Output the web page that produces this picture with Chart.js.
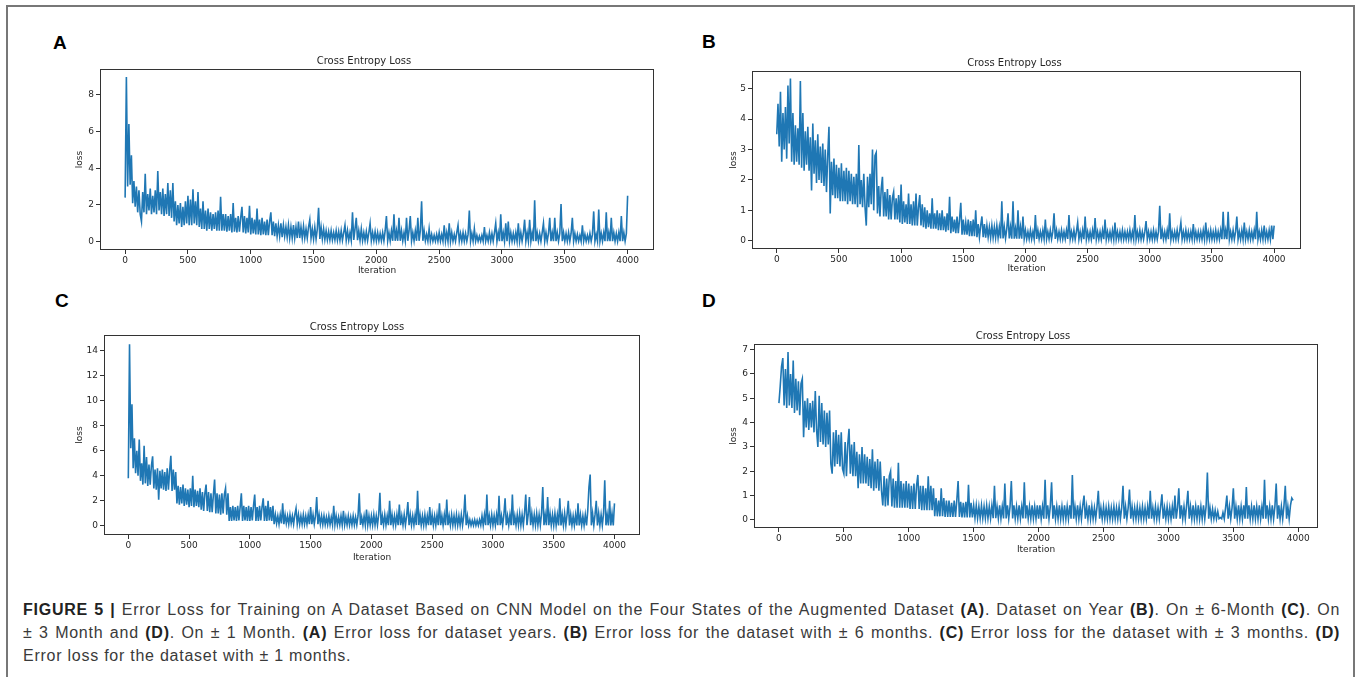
<!DOCTYPE html>
<html><head><meta charset="utf-8">
<script src="https://cdn.jsdelivr.net/npm/chart.js@4.4.1/dist/chart.umd.min.js"></script>
<style>
html,body{margin:0;padding:0;background:#fff;}
#page{position:relative;width:1357px;height:677px;overflow:hidden;background:#fff;}
#frame{position:absolute;left:6px;top:5px;width:1345px;height:720px;border:2px solid #777;border-bottom:none;}
.panel{position:absolute;font:bold 19px "Liberation Sans",Arial,sans-serif;color:#000;line-height:19px;}
canvas{position:absolute;}
#caption{position:absolute;left:23px;top:598px;width:1317px;font:16px "Liberation Sans",Arial,sans-serif;letter-spacing:0.75px;color:#3a3a3a;}
#caption div{height:23px;line-height:23px;}
#caption .j{text-align:justify;text-align-last:justify;}
#caption b{color:#222;}
</style></head>
<body>
<div id="page">
  <div id="frame"></div>
  <div class="panel" style="left:53px;top:33px">A</div>
  <div class="panel" style="left:702px;top:32px">B</div>
  <div class="panel" style="left:55px;top:291px">C</div>
  <div class="panel" style="left:702px;top:291px">D</div>
  <canvas id="cA" width="580" height="221" style="left:74px;top:55px"></canvas>
  <canvas id="cB" width="573" height="217" style="left:728px;top:57px"></canvas>
  <canvas id="cC" width="566" height="242" style="left:74px;top:321px"></canvas>
  <canvas id="cD" width="590" height="225" style="left:728px;top:330px"></canvas>
  <div id="caption">
    <div class="j"><b>FIGURE 5 |</b> Error Loss for Training on A Dataset Based on CNN Model on the Four States of the Augmented Dataset <b>(A)</b>. Dataset on Year <b>(B)</b>. On ± 6-Month <b>(C)</b>. On</div>
    <div class="j">± 3 Month and <b>(D)</b>. On ± 1 Month. <b>(A)</b> Error loss for dataset years. <b>(B)</b> Error loss for the dataset with ± 6 months. <b>(C)</b> Error loss for the dataset with ± 3 months. <b>(D)</b></div>
    <div>Error loss for the dataset with ± 1 months.</div>
  </div>
</div>
<script>
// iteration spacing between stored samples
const STEP = 10;
const xTicks = [0, 500, 1000, 1500, 2000, 2500, 3000, 3500, 4000];
const yTicksA = [0, 2, 4, 6, 8];
const yTicksB = [0, 1, 2, 3, 4, 5];
const yTicksC = [0, 2, 4, 6, 8, 10, 12, 14];
const yTicksD = [0, 1, 2, 3, 4, 5, 6, 7];

// (A) dataset on year  (one row = 200 iterations)
const lossA = [
  2.4, 8.97, 3.0, 6.4, 3.1, 4.7, 2.1, 3.3, 1.9, 3.0, 1.6, 2.8, 1.5, 1.1, 2.7, 1.6, 3.7, 1.5, 2.6, 1.7,
  2.9, 1.5, 2.5, 1.6, 2.8, 1.5, 3.85, 1.7, 2.7, 1.5, 2.9, 1.4, 2.6, 1.5, 3.2, 1.4, 2.8, 1.3, 3.2, 1.1,
  2.2, 0.9, 2.0, 1.0, 2.1, 0.8, 1.9, 0.9, 2.2, 1.0, 2.5, 0.9, 2.3, 0.9, 2.85, 1.0, 2.2, 0.9, 2.7, 0.8,
  1.8, 0.7, 2.2, 0.7, 1.7, 0.6, 1.8, 0.7, 1.6, 0.6, 1.5, 0.7, 1.6, 0.6, 1.7, 0.6, 2.45, 0.6, 1.5, 0.6,
  1.5, 0.55, 1.4, 0.6, 1.5, 0.5, 2.1, 0.55, 1.3, 0.5, 1.4, 0.55, 1.3, 1.9, 0.5, 1.4, 0.45, 1.3, 0.5, 1.95,
  0.4, 1.3, 0.45, 1.2, 0.4, 1.8, 0.4, 1.2, 0.35, 1.3, 0.4, 1.1, 0.35, 1.2, 0.35, 1.1, 1.6, 0.35, 1.1, 0.3,
  1.0, 0.3, 0.9, 0.3, 1.0, 0.25, 0.9, 0.3, 0.8, 0.25, 0.9, 0.2, 0.8, 0.2, 0.9, 0.2, 0.8, 0.2, 1.1, 0.2,
  0.8, 0.2, 0.85, 0.2, 0.7, 0.2, 0.8, 1.2, 0.2, 0.7, 0.15, 0.8, 0.15, 0.7, 1.85, 0.15, 0.8, 0.15, 0.7, 0.12,
  0.6, 0.1, 0.55, 0.1, 0.6, 0.1, 0.5, 0.1, 0.6, 0.08, 0.55, 0.08, 0.6, 0.08, 0.5, 0.9, 0.08, 0.6, 0.08, 0.5,
  0.08, 1.6, 0.1, 0.7, 1.3, 0.08, 0.6, 0.08, 0.7, 0.06, 0.5, 0.06, 0.55, 0.06, 0.5, 1.0, 0.06, 0.5, 0.06, 0.55,
  0.05, 0.5, 0.05, 0.45, 0.05, 0.5, 0.05, 0.6, 1.4, 0.05, 0.5, 0.05, 0.6, 0.05, 1.5, 0.05, 0.6, 0.05, 1.3, 0.05,
  0.6, 0.05, 0.5, 0.05, 1.3, 0.05, 0.6, 1.4, 0.05, 0.5, 0.05, 0.6, 0.05, 1.3, 0.05, 0.6, 2.2, 0.05, 0.6, 0.05,
  0.4, 0.03, 0.7, 0.03, 0.4, 0.03, 0.35, 0.03, 0.4, 0.03, 0.5, 0.03, 0.4, 0.03, 0.9, 0.03, 0.5, 0.03, 1.0, 0.03,
  0.5, 0.03, 0.4, 0.03, 0.5, 0.9, 0.03, 0.45, 0.03, 0.5, 0.03, 0.45, 0.03, 0.4, 1.7, 0.03, 0.45, 0.03, 0.7, 0.03,
  0.35, 0.03, 0.3, 0.03, 0.35, 0.03, 0.8, 0.03, 0.35, 0.03, 0.5, 0.03, 0.45, 0.03, 0.5, 1.0, 0.03, 0.5, 0.03, 1.5,
  0.03, 0.5, 0.03, 1.0, 0.03, 1.1, 0.03, 0.5, 0.03, 0.45, 0.03, 0.5, 0.03, 1.0, 0.03, 0.5, 0.03, 0.45, 1.2, 0.03,
  0.5, 0.03, 1.2, 0.03, 0.5, 0.03, 2.25, 0.03, 0.5, 0.03, 0.45, 0.03, 0.5, 1.0, 0.03, 0.5, 0.03, 0.45, 1.3, 0.03,
  0.5, 0.03, 1.3, 0.03, 0.5, 0.03, 0.45, 2.05, 0.03, 0.5, 0.03, 0.45, 0.03, 0.5, 0.03, 0.45, 1.3, 0.03, 0.45, 0.03,
  0.4, 0.03, 0.35, 0.03, 0.9, 0.03, 0.4, 0.03, 0.35, 0.03, 0.45, 0.03, 0.4, 1.65, 0.03, 0.4, 0.03, 1.75, 0.03, 0.45,
  0.03, 0.5, 0.03, 1.6, 0.03, 0.5, 0.03, 1.3, 0.03, 0.5, 0.03, 0.45, 0.03, 0.5, 0.03, 1.4, 0.03, 0.5, 0.03, 0.45,
  2.5
];

// (B) +/- 6 months
const lossB = [
  3.5, 4.5, 3.1, 4.9, 2.6, 4.2, 3.0, 4.4, 2.7, 5.1, 3.2, 5.33, 2.6, 4.2, 2.5, 3.8, 2.6, 3.7, 2.5, 5.25,
  2.4, 4.2, 2.3, 3.6, 2.5, 3.75, 2.3, 3.4, 1.65, 3.85, 2.2, 3.3, 1.9, 3.5, 2.0, 3.1, 1.9, 3.2, 1.8, 3.0,
  1.6, 2.8, 3.75, 0.9, 2.6, 1.5, 2.7, 1.4, 2.5, 1.4, 2.4, 1.3, 2.55, 1.3, 2.3, 1.3, 2.4, 1.2, 2.3, 1.3,
  2.2, 1.2, 2.1, 1.2, 2.2, 1.1, 3.15, 1.2, 2.0, 1.1, 2.2, 1.1, 0.5, 2.1, 1.1, 2.2, 1.2, 3.0, 1.0, 2.8,
  2.9, 0.9, 1.8, 0.8, 1.7, 2.1, 0.8, 1.6, 0.8, 1.7, 0.7, 1.5, 0.7, 1.4, 1.6, 0.7, 1.4, 0.7, 1.5, 0.6,
  1.85, 0.55, 1.3, 0.6, 1.2, 0.55, 1.55, 0.55, 1.2, 0.5, 1.3, 0.5, 1.55, 0.5, 1.1, 1.5, 0.5, 1.2, 0.45, 1.1,
  0.4, 1.0, 0.45, 0.9, 0.4, 1.4, 0.4, 0.9, 0.4, 1.0, 0.35, 0.9, 0.35, 1.0, 0.35, 0.8, 0.3, 0.9, 0.35, 1.45,
  0.25, 0.8, 0.3, 0.7, 0.25, 0.8, 0.25, 0.7, 1.25, 0.2, 0.7, 0.2, 0.6, 0.2, 0.7, 0.15, 0.65, 0.15, 0.7, 0.15,
  1.0, 0.12, 0.55, 0.12, 0.5, 0.8, 0.12, 0.55, 0.1, 0.5, 0.12, 0.45, 0.1, 0.5, 0.1, 0.45, 0.1, 0.5, 0.1, 0.45,
  0.08, 1.3, 0.08, 0.45, 0.08, 0.4, 0.9, 0.08, 0.45, 0.07, 1.3, 0.07, 0.4, 0.07, 1.0, 0.07, 0.45, 0.07, 0.8, 0.07,
  0.35, 0.06, 0.3, 0.06, 0.35, 0.06, 0.3, 0.06, 0.85, 0.06, 0.35, 0.06, 0.3, 0.06, 0.35, 0.06, 0.7, 0.06, 0.3, 0.06,
  0.35, 0.06, 0.3, 0.9, 0.06, 0.35, 0.06, 0.3, 0.06, 0.35, 0.06, 0.3, 0.06, 0.35, 0.06, 0.85, 0.06, 0.3, 0.06, 0.35,
  0.05, 0.3, 0.6, 0.05, 0.3, 0.05, 0.35, 0.05, 0.8, 0.05, 0.3, 0.05, 0.3, 0.05, 0.35, 0.05, 0.75, 0.05, 0.3, 0.05,
  0.3, 0.05, 0.35, 0.05, 0.7, 0.05, 0.3, 0.05, 0.3, 0.05, 0.35, 0.05, 0.6, 0.05, 0.3, 0.05, 0.3, 0.05, 0.35, 0.05,
  0.3, 0.05, 0.3, 0.05, 0.35, 0.05, 0.3, 0.05, 0.85, 0.05, 0.3, 0.05, 0.35, 0.05, 0.3, 0.05, 0.3, 0.65, 0.05, 0.3,
  0.05, 0.3, 0.05, 0.35, 0.05, 0.3, 0.05, 0.3, 1.15, 0.05, 0.35, 0.05, 0.3, 0.05, 0.35, 0.05, 0.9, 0.05, 0.3, 0.05,
  0.3, 0.05, 0.35, 0.05, 0.3, 0.6, 0.05, 0.3, 0.05, 0.35, 0.05, 0.3, 0.05, 0.3, 0.05, 0.55, 0.05, 0.3, 0.05, 0.3,
  0.05, 0.3, 0.05, 0.35, 0.05, 0.6, 0.05, 0.3, 0.05, 0.35, 0.05, 0.3, 0.05, 0.35, 0.05, 0.3, 0.05, 0.35, 0.05, 0.95,
  0.05, 0.35, 0.05, 0.95, 0.05, 0.3, 0.05, 0.35, 0.05, 0.3, 0.8, 0.05, 0.3, 0.05, 0.35, 0.05, 0.6, 0.05, 0.3, 0.05,
  0.35, 0.05, 0.3, 0.05, 0.35, 0.05, 0.95, 0.05, 0.3, 0.05, 0.35, 0.05, 0.5, 0.05, 0.3, 0.05, 0.35, 0.05, 0.5, 0.05,
  0.5
];

// (C) +/- 3 months
const lossC = [
  3.8, 14.5, 6.2, 9.7, 4.6, 7.0, 4.2, 6.0, 4.0, 6.9, 3.6, 5.0, 3.3, 6.4, 3.4, 5.5, 3.2, 4.9, 3.3, 4.8,
  5.55, 3.0, 4.5, 2.9, 4.6, 2.1, 4.4, 3.0, 4.5, 2.9, 4.3, 2.8, 4.6, 2.9, 4.4, 5.6, 2.8, 4.5, 2.9, 4.3,
  1.8, 3.2, 1.7, 3.1, 1.8, 3.3, 1.6, 3.0, 1.7, 2.9, 1.5, 3.0, 1.6, 4.0, 1.5, 2.9, 1.6, 2.8, 1.5, 3.0,
  1.3, 2.7, 1.2, 2.6, 3.3, 1.2, 2.7, 1.1, 2.6, 1.1, 2.5, 3.7, 1.0, 2.6, 1.0, 2.5, 0.9, 2.6, 1.0, 2.5,
  3.0, 0.9, 2.6, 0.4, 1.5, 0.4, 1.6, 0.45, 1.5, 0.4, 1.6, 0.45, 1.5, 2.6, 0.4, 1.6, 0.45, 1.5, 0.4, 1.6,
  0.4, 1.5, 0.45, 1.6, 2.5, 0.4, 1.5, 0.4, 1.6, 0.45, 1.5, 2.2, 0.4, 1.6, 0.4, 2.0, 0.45, 1.5, 0.4, 1.6,
  0.15, 0.9, 0.2, 0.8, 0.15, 0.9, 0.2, 1.8, 0.15, 0.9, 0.2, 0.8, 0.15, 0.9, 0.2, 0.8, 0.15, 0.9, 1.4, 0.15,
  0.9, 0.15, 0.8, 0.15, 0.9, 0.15, 0.8, 0.15, 0.9, 0.15, 1.5, 0.15, 0.9, 0.15, 0.8, 2.3, 0.15, 0.9, 0.15, 0.8,
  0.1, 0.8, 0.1, 0.7, 0.1, 0.8, 0.1, 0.7, 0.1, 1.6, 0.1, 0.8, 0.08, 0.7, 0.08, 0.8, 0.08, 1.2, 0.08, 0.7,
  0.08, 0.8, 0.08, 0.7, 0.08, 0.8, 0.08, 0.7, 0.08, 0.8, 2.6, 0.08, 0.7, 0.08, 0.8, 0.07, 1.3, 0.07, 0.8, 0.07,
  0.8, 0.07, 0.9, 0.07, 0.8, 0.07, 0.9, 2.65, 0.07, 0.8, 0.07, 0.9, 0.07, 0.8, 0.07, 2.0, 0.07, 0.9, 0.07, 0.8,
  0.07, 0.9, 0.07, 1.7, 0.07, 0.8, 0.07, 0.9, 0.07, 0.8, 1.9, 0.07, 0.9, 0.07, 0.8, 0.07, 0.9, 0.07, 2.8, 0.07,
  0.9, 0.06, 0.8, 0.06, 0.9, 0.06, 0.8, 0.06, 1.5, 0.06, 0.9, 0.06, 0.8, 0.06, 0.9, 0.06, 1.8, 0.06, 0.8, 0.06,
  0.9, 0.06, 2.1, 0.06, 0.8, 0.06, 0.9, 0.06, 0.8, 0.06, 0.9, 0.06, 0.8, 0.06, 0.9, 0.06, 0.8, 2.5, 0.06, 0.8,
  0.05, 0.5, 0.05, 0.45, 0.05, 0.5, 0.05, 0.45, 0.05, 0.5, 0.06, 0.8, 0.06, 0.9, 0.06, 2.5, 0.06, 0.8, 0.06, 0.9,
  0.06, 0.8, 0.06, 0.9, 0.06, 2.4, 0.06, 0.8, 0.06, 0.9, 2.2, 0.06, 0.8, 0.06, 0.9, 0.06, 2.5, 0.06, 0.8, 0.06,
  0.9, 0.06, 1.0, 0.06, 0.9, 0.06, 1.0, 2.5, 0.06, 0.9, 2.3, 0.06, 1.0, 0.06, 0.9, 0.06, 1.0, 0.06, 0.9, 0.06,
  1.0, 3.1, 0.06, 0.9, 0.06, 2.3, 0.06, 1.0, 0.06, 0.9, 0.05, 1.0, 0.05, 0.9, 0.05, 2.2, 0.05, 0.9, 0.05, 1.0,
  0.05, 0.9, 2.0, 0.05, 0.9, 0.05, 0.8, 0.05, 0.9, 0.05, 1.8, 0.05, 0.9, 0.05, 0.8, 0.05, 0.9, 0.05, 1.2, 3.1,
  4.1, 0.05, 1.0, 0.05, 0.9, 2.0, 0.05, 1.0, 0.05, 0.9, 0.05, 1.0, 3.65, 0.05, 0.9, 0.05, 2.0, 0.05, 1.0, 0.05,
  1.8
];

// (D) +/- 1 month
const lossD = [
  4.8, 5.5, 6.3, 6.65, 4.7, 6.2, 4.6, 6.9, 4.7, 6.0, 4.6, 6.55, 4.4, 5.8, 4.5, 5.7, 4.3, 5.6, 5.8, 3.4,
  4.9, 3.8, 5.0, 3.7, 4.8, 3.8, 4.9, 3.6, 5.3, 3.7, 3.0, 5.1, 3.2, 4.8, 3.1, 4.5, 3.0, 4.4, 3.1, 4.5,
  2.3, 1.9, 3.6, 2.2, 3.7, 2.3, 3.5, 2.2, 3.6, 2.1, 1.9, 3.2, 1.8, 3.1, 3.75, 1.9, 3.1, 1.8, 3.2, 1.8,
  2.8, 1.3, 2.7, 1.5, 3.0, 1.5, 2.7, 1.5, 2.6, 1.4, 2.5, 1.3, 2.9, 1.2, 2.4, 1.3, 2.5, 1.2, 2.4, 1.2,
  0.6, 1.8, 0.55, 1.7, 0.6, 1.8, 2.0, 0.55, 1.7, 0.5, 1.6, 0.5, 2.35, 0.5, 1.6, 0.5, 1.5, 0.5, 1.6, 0.5,
  1.5, 0.45, 1.4, 0.45, 1.5, 0.45, 1.4, 1.85, 0.45, 1.4, 0.4, 1.4, 0.4, 1.3, 0.4, 1.8, 0.4, 1.4, 0.4, 1.3,
  0.15, 0.9, 0.15, 0.8, 0.15, 1.3, 0.15, 0.9, 0.12, 0.8, 0.12, 0.8, 0.12, 0.7, 0.12, 0.8, 0.12, 0.8, 1.6, 0.12,
  0.75, 0.1, 0.7, 0.1, 0.75, 0.1, 1.45, 0.1, 0.7, 0.1, 0.6, 0.08, 0.6, 0.07, 0.55, 0.07, 0.6, 0.07, 0.55, 0.07,
  0.6, 0.07, 0.55, 0.07, 0.6, 0.07, 1.4, 0.07, 0.55, 0.06, 0.6, 0.06, 0.55, 0.06, 1.5, 0.06, 0.6, 0.06, 0.55, 1.6,
  0.06, 0.6, 0.06, 0.55, 0.06, 0.6, 0.06, 0.55, 0.06, 1.55, 0.06, 0.6, 0.06, 0.55, 0.06, 0.6, 0.06, 0.55, 0.06, 0.6,
  0.05, 0.6, 0.05, 0.55, 0.05, 1.65, 0.05, 0.6, 0.05, 0.55, 1.55, 0.05, 0.6, 0.05, 0.55, 0.05, 0.6, 0.05, 0.55, 0.05,
  0.6, 0.05, 0.55, 0.05, 0.6, 0.05, 1.85, 0.05, 0.55, 0.05, 0.6, 0.05, 0.55, 0.05, 0.6, 1.0, 0.05, 0.55, 0.05, 0.6,
  0.05, 0.55, 0.05, 0.5, 0.05, 0.55, 1.2, 0.05, 0.5, 0.05, 0.55, 0.05, 0.5, 0.05, 0.55, 0.05, 0.5, 0.05, 0.55, 0.05,
  0.5, 0.05, 0.55, 0.05, 0.5, 1.4, 0.05, 0.55, 0.05, 0.5, 1.25, 0.05, 0.55, 0.05, 0.5, 0.05, 0.55, 0.05, 0.5, 0.05,
  0.55, 0.05, 0.5, 0.05, 0.55, 0.05, 1.2, 0.05, 0.5, 0.05, 0.55, 0.05, 0.5, 0.05, 0.55, 1.05, 0.05, 0.5, 0.05, 0.55,
  0.05, 0.5, 0.05, 0.55, 0.05, 1.0, 0.05, 0.5, 1.3, 0.05, 0.6, 0.05, 0.55, 0.05, 0.6, 1.2, 0.05, 0.55, 0.05, 0.6,
  0.05, 0.55, 0.05, 0.6, 0.05, 0.55, 0.05, 0.6, 0.05, 0.55, 1.95, 0.05, 0.5, 0.05, 0.45, 0.05, 0.4, 0.05, 0.35, 0.05,
  0.1, 0.05, 0.3, 0.05, 0.5, 1.0, 0.05, 0.55, 0.05, 0.5, 1.3, 0.05, 0.55, 0.05, 0.6, 0.05, 0.55, 0.05, 0.6, 0.05,
  1.35, 0.05, 0.6, 0.05, 0.55, 0.05, 0.6, 0.05, 0.55, 0.05, 0.6, 0.05, 0.55, 0.05, 1.65, 0.05, 0.6, 0.05, 0.55, 0.05,
  0.6, 0.05, 0.55, 1.5, 0.05, 0.6, 0.05, 0.55, 0.05, 0.6, 1.4, 0.05, 0.55, 0.05, 0.6, 0.9, 0.8
];

const TXT = '#262626';
const FAM = '"DejaVu Sans", sans-serif';

const framePlugin = {
  id: 'frame',
  afterDraw(chart) {
    const {ctx, chartArea: a} = chart;
    ctx.save();
    ctx.strokeStyle = '#333';
    ctx.lineWidth = 1;
    ctx.strokeRect(Math.round(a.left) + 0.5, Math.round(a.top) + 0.5,
                   Math.round(a.right - a.left) - 1, Math.round(a.bottom - a.top) - 1);
    ctx.restore();
  }
};

function makeChart(id, values, yTicks, xr, yr, yW, xH) {
  const pts = values.map((v, i) => ({x: i * STEP, y: v}));
  const tickFont = {family: FAM, size: 9, lineHeight: 1.2};
  const grid = {drawOnChartArea: false, drawTicks: true, tickLength: 4, color: '#333', lineWidth: 1};
  return new Chart(document.getElementById(id), {
    type: 'line',
    data: {datasets: [{data: pts, borderColor: '#1f77b4', borderWidth: 1.6,
      pointRadius: 0, tension: 0, fill: false}]},
    options: {
      responsive: false, animation: false, events: [],
      parsing: false,
      layout: {padding: 0},
      plugins: {
        legend: {display: false}, tooltip: {enabled: false},
        title: {display: true, text: 'Cross Entropy Loss', color: TXT,
          font: {family: FAM, size: 10, weight: 'normal', lineHeight: 1.2},
          padding: {top: 0, bottom: 2}}
      },
      scales: {
        x: {type: 'linear', min: xr[0], max: xr[1],
          afterBuildTicks: s => { s.ticks = xTicks.map(v => ({value: v})); },
          afterFit: s => { s.height = xH; },
          grid: grid, border: {display: false},
          ticks: {font: tickFont, color: TXT, padding: 1, maxRotation: 0, autoSkip: false,
            callback: v => String(v)},
          title: {display: true, text: 'Iteration', color: TXT, font: tickFont, padding: 0}},
        y: {type: 'linear', min: yr[0], max: yr[1],
          afterBuildTicks: s => { s.ticks = yTicks.map(v => ({value: v})); },
          afterFit: s => { s.width = yW; },
          grid: grid, border: {display: false},
          ticks: {font: tickFont, color: TXT, padding: 2, autoSkip: false,
            callback: v => String(v)},
          title: {display: true, text: 'loss', color: TXT, font: tickFont, padding: 0}}
      }
    },
    plugins: [framePlugin]
  });
}

makeChart('cA', lossA, yTicksA, [-200, 4210], [-0.45, 9.4], 26, 26);
makeChart('cB', lossB, yTicksB, [-199, 4216], [-0.27, 5.58], 24, 25);
makeChart('cC', lossC, yTicksC, [-200, 4210], [-0.72, 15.23], 30, 28);
makeChart('cD', lossD, yTicksD, [-192, 4152], [-0.33, 7.23], 26, 27);
</script>
</body></html>
